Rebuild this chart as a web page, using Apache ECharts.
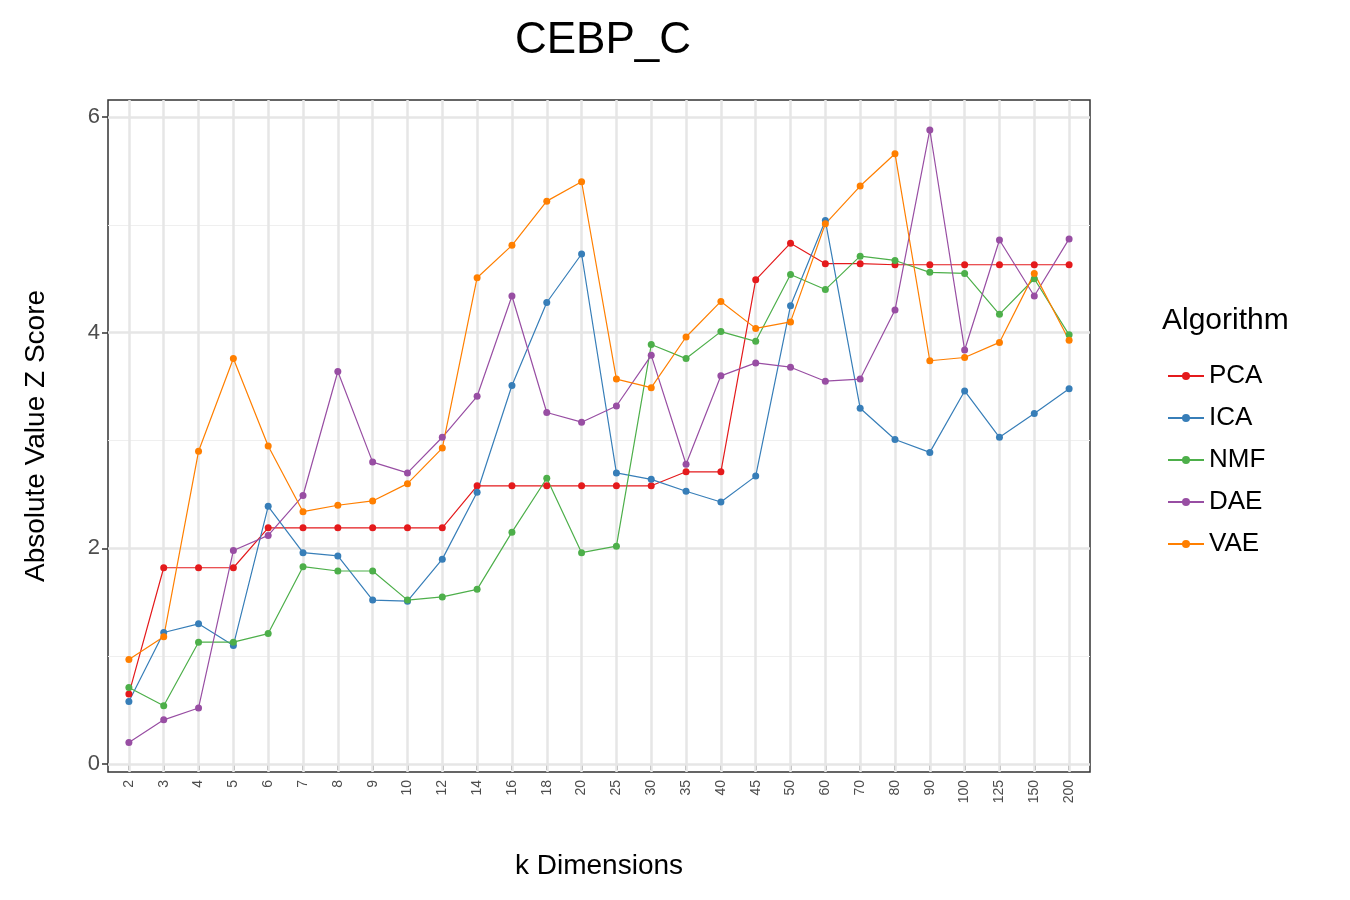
<!DOCTYPE html>
<html>
<head>
<meta charset="utf-8">
<script src="https://cdn.jsdelivr.net/npm/echarts@6/dist/echarts.min.js"></script>
<style>html,body{margin:0;padding:0;background:#fff}#chart{width:1350px;height:900px}</style>
</head>
<body>
<div id="chart"></div>
<script>
var kDims = ["2","3","4","5","6","7","8","9","10","12","14","16","18","20","25","30","35","40","45","50","60","70","80","90","100","125","150","200"];
var pca = [0.65,1.82,1.82,1.82,2.19,2.19,2.19,2.19,2.19,2.19,2.58,2.58,2.58,2.58,2.58,2.58,2.71,2.71,4.49,4.83,4.64,4.64,4.63,4.63,4.63,4.63,4.63,4.63];
var ica = [0.58,1.22,1.30,1.10,2.39,1.96,1.93,1.52,1.51,1.90,2.52,3.51,4.28,4.73,2.70,2.64,2.53,2.43,2.67,4.25,5.04,3.30,3.01,2.89,3.46,3.03,3.25,3.48];
var nmf = [0.71,0.54,1.13,1.13,1.21,1.83,1.79,1.79,1.52,1.55,1.62,2.15,2.65,1.96,2.02,3.89,3.76,4.01,3.92,4.54,4.40,4.71,4.67,4.56,4.55,4.17,4.50,3.98];
var dae = [0.20,0.41,0.52,1.98,2.12,2.49,3.64,2.80,2.70,3.03,3.41,4.34,3.26,3.17,3.32,3.79,2.78,3.60,3.72,3.68,3.55,3.57,4.21,5.88,3.84,4.86,4.34,4.87];
var vae = [0.97,1.18,2.90,3.76,2.95,2.34,2.40,2.44,2.60,2.93,4.51,4.81,5.22,5.40,3.57,3.49,3.96,4.29,4.04,4.10,5.01,5.36,5.66,3.74,3.77,3.91,4.55,3.93];
var yTicks = [0, 2, 4, 6];
var yMinor = [1, 3, 5];

var chart = echarts.init(document.getElementById("chart"));
function pts(arr) { return arr.map(function (v, i) { return [i + 1, v]; }); }
function mk(name, data, color) {
  return { name: name, type: "line", data: pts(data), symbol: "circle", symbolSize: 7, zlevel: 1,
    itemStyle: { color: color }, lineStyle: { width: 1.2, color: color } };
}
var idx = kDims.map(function (d, i) { return i + 1; });
var gridLines = [];
yTicks.forEach(function (v) { gridLines.push({ yAxis: v, lineStyle: { color: "#e6e6e6", width: 2.5, type: "solid" } }); });
yMinor.forEach(function (v) { gridLines.push({ yAxis: v, lineStyle: { color: "#efefef", width: 1.2, type: "solid" } }); });
idx.forEach(function (v) { gridLines.push({ xAxis: v, lineStyle: { color: "#e6e6e6", width: 2.5, type: "solid" } }); });

chart.setOption({
  animation: false,
  title: { text: "CEBP_C", left: 598, top: 14, textAlign: "center",
    textStyle: { fontFamily: "Liberation Sans", fontSize: 44, fontWeight: "normal", color: "#000" } },
  grid: { left: 108, right: 260, top: 100, bottom: 128, show: true, borderColor: "#333", borderWidth: 1.5 },
  legend: { orient: "vertical", left: 1162, top: 358, itemWidth: 36, itemHeight: 10, itemGap: 16,
    data: ["PCA", "ICA", "NMF", "DAE", "VAE"],
    textStyle: { fontFamily: "Liberation Sans", fontSize: 26, color: "#000" } },
  graphic: [{ type: "text", left: 1162, top: 306,
    style: { text: "Algorithm", font: "30px 'Liberation Sans'", fill: "#000" } }],
  xAxis: { type: "value", min: 0.4, max: 28.6, name: "k Dimensions", nameLocation: "middle", nameGap: 80,
    nameTextStyle: { fontFamily: "Liberation Sans", fontSize: 28, color: "#000" },
    axisLine: { show: false }, splitLine: { show: false },
    axisTick: { customValues: idx, length: 6, lineStyle: { color: "#333", width: 1.5 } },
    axisLabel: { customValues: idx, rotate: 90, fontSize: 14, color: "#4d4d4d", fontFamily: "Liberation Sans",
      formatter: function (v) { return kDims[Math.round(v) - 1] || ""; } } },
  yAxis: { type: "value", min: -0.074, max: 6.158, name: "Absolute Value Z Score", nameLocation: "middle", nameGap: 58,
    nameTextStyle: { fontFamily: "Liberation Sans", fontSize: 28, color: "#000" },
    axisLine: { show: false }, splitLine: { show: false },
    axisTick: { show: true, customValues: yTicks, length: 6, lineStyle: { color: "#333", width: 1.5 } },
    axisLabel: { customValues: yTicks, fontSize: 22, color: "#4d4d4d", fontFamily: "Liberation Sans" } },
  series: [
    { type: "line", data: [], silent: true, zlevel: 0,
      markLine: { silent: true, symbol: "none", label: { show: false }, data: gridLines, animation: false } },
    mk("PCA", pca, "#e41a1c"),
    mk("ICA", ica, "#377eb8"),
    mk("NMF", nmf, "#4daf4a"),
    mk("DAE", dae, "#984ea3"),
    mk("VAE", vae, "#ff7f00")
  ]
});
</script>
</body>
</html>
